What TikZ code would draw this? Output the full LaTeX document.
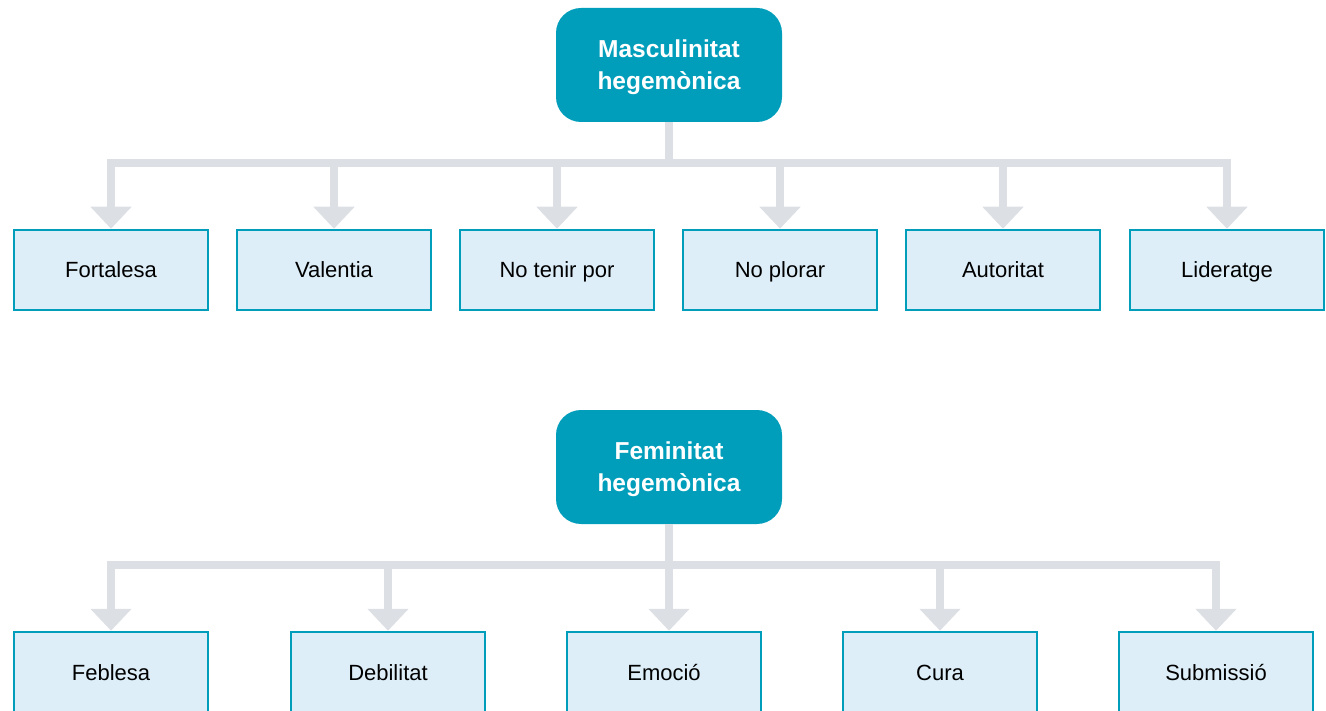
\documentclass[tikz,border=0pt]{standalone}
\usepackage{fontspec}
\setmainfont{Liberation Sans}
\usetikzlibrary{arrows.meta}
\definecolor{headcol}{RGB}{0,158,187}
\definecolor{traitfill}{RGB}{221,238,248}
\definecolor{linkgray}{RGB}{220,223,227}

\begin{document}
\begin{tikzpicture}[x=1pt,y=-1pt,
    headbox/.style={fill=headcol,rounded corners=25pt,minimum width=226pt,minimum height=114pt,
      text=white,align=center,text depth=0pt,font=\fontsize{24.5}{32}\selectfont\bfseries},
    trait/.style={draw=headcol,line width=2.5pt,fill=traitfill,minimum width=194pt,minimum height=80pt,
      text height=16pt,text depth=0pt,font=\fontsize{22}{26}\selectfont},
    conn/.style={draw=linkgray,line width=8pt},
    tip/.style={conn,-{Triangle[length=22pt,width=40pt]}}]
    \useasboundingbox (0,0) rectangle (1326,711);
    \node[headbox] (masc) at (669,65) {Masculinitat\\hegemònica};
    \coordinate (mbar) at (669,163);
    \draw[conn] (masc.south) -- (mbar);
    \foreach \n/\x/\t in {fort/111/Fortalesa,val/334/Valentia,por/557/No tenir por,
        plor/780/No plorar,aut/1003/Autoritat,lid/1227/Lideratge} {
        \node[trait] (\n) at (\x,270) {\t};
        \draw[tip] (mbar) -| (\n.north);
    }
    \node[headbox] (fem) at (669,467) {Feminitat\\hegemònica};
    \coordinate (fbar) at (669,565);
    \draw[conn] (fem.south) -- (fbar);
    \foreach \n/\x/\t in {feb/111/Feblesa,deb/388/Debilitat,cura/940/Cura,sub/1216/Submissió} {
        \node[trait] (\n) at (\x,672) {\t};
        \draw[tip] (fbar) -| (\n.north);
    }
    \node[trait] (emo) at (664,672) {Emoció};
    \draw[tip] (fbar) -- (fbar |- emo.north);
\end{tikzpicture}
\end{document}
